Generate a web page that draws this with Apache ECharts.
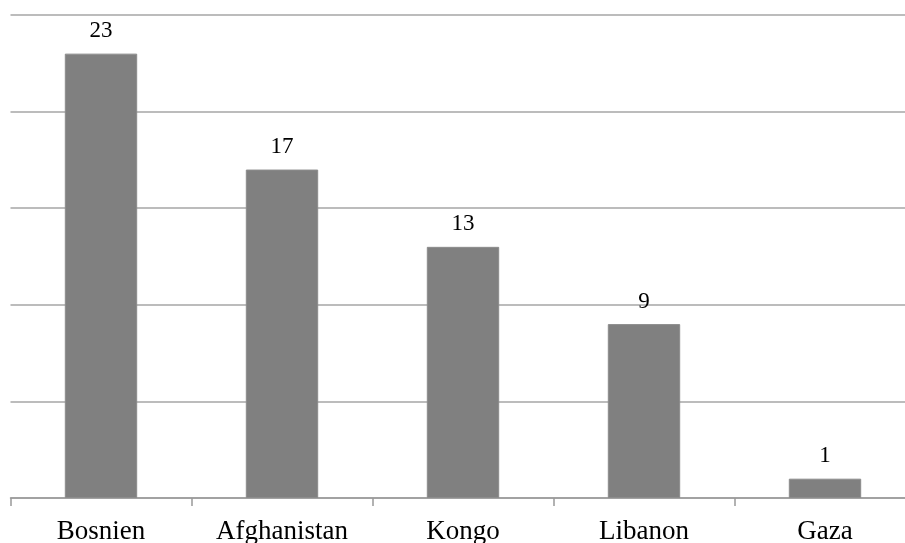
<!DOCTYPE html>
<html><head><meta charset="utf-8">
<script src="https://cdn.jsdelivr.net/npm/echarts@6/dist/echarts.min.js"></script>
<style>html,body{margin:0;padding:0;background:#fff}#c{width:905px;height:543px}</style>
</head><body><div id="c"></div>
<script>
const categories = ["Bosnien", "Afghanistan", "Kongo", "Libanon", "Gaza"];
const values = [23, 17, 13, 9, 1];
const chart = echarts.init(document.getElementById('c'), null, {renderer: 'canvas'});
chart.setOption({
  animation: false,
  backgroundColor: '#fff',
  grid: {left: 10.5, width: 905, top: 15, bottom: 45, containLabel: false, outerBoundsMode: 'none'},
  xAxis: {
    type: 'category', data: categories,
    axisLine: {lineStyle: {color: '#999', width: 1.5}},
    axisTick: {show: true, length: 8, lineStyle: {color: '#999', width: 1.5}},
    axisLabel: {color: '#000', fontFamily: 'Liberation Serif', fontSize: 27, margin: 20}
  },
  yAxis: {
    type: 'value', min: 0, max: 25, interval: 5,
    axisLabel: {show: false}, axisLine: {show: false}, axisTick: {show: false},
    splitLine: {lineStyle: {color: '#a6a6a6', width: 1.5}}
  },
  series: [{
    type: 'bar', data: values, barWidth: '40%',
    itemStyle: {color: '#808080', borderColor: '#8c8c8c', borderWidth: 1},
    label: {show: true, position: 'top', distance: 11, color: '#000', fontFamily: 'Liberation Serif', fontSize: 23}
  }]
});
</script></body></html>
